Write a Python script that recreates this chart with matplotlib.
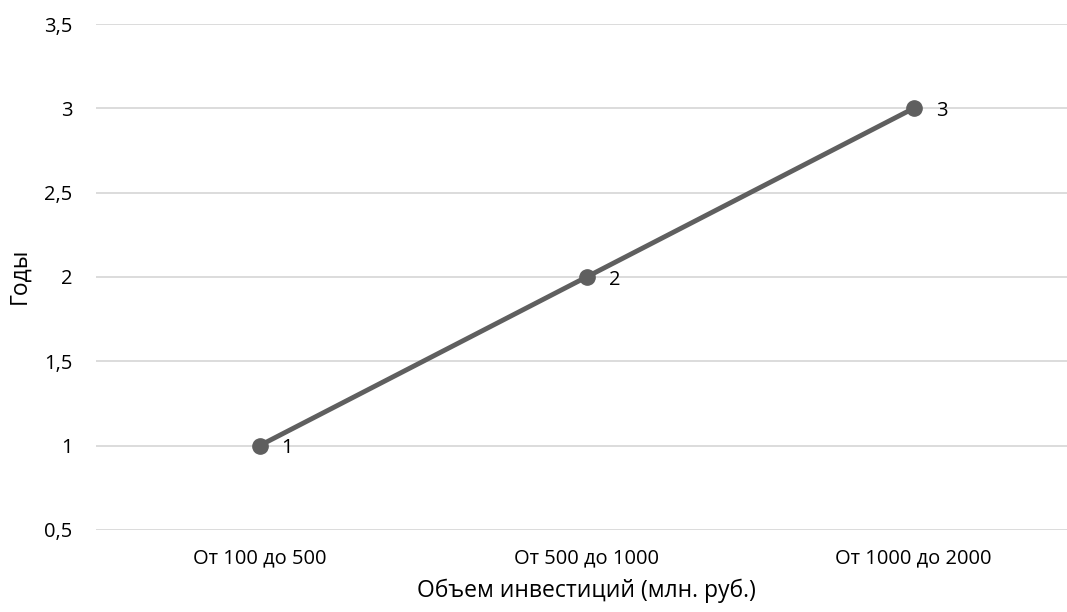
import matplotlib
matplotlib.use("Agg")
import matplotlib.pyplot as plt

categories = ["От 100 до 500", "От 500 до 1000", "От 1000 до 2000"]
years = [1, 2, 3]
y_ticks = [0.5, 1, 1.5, 2, 2.5, 3, 3.5]
y_tick_labels = ["0,5", "1", "1,5", "2", "2,5", "3", "3,5"]

plt.rcParams["font.family"] = ["Open Sans", "DejaVu Sans"]

fig = plt.figure(figsize=(10.67, 6.12), dpi=100)
ax = fig.add_axes([96 / 1067, 82 / 612, 971 / 1067, 506 / 612])

x = list(range(len(categories)))
line_color = "#5f5f5f"
ax.plot(x, years, color=line_color, linewidth=3.5, marker="o", markersize=11,
        zorder=3)

# подписи точек
for xi, yi in zip(x, years):
    ax.annotate(str(yi), (xi, yi), xytext=(20, -2), textcoords="offset points",
                ha="center", va="center", fontsize=14.5, color="black")

ax.set_xlim(-0.5, 2.469)
ax.set_ylim(0.5, 3.5)
ax.set_yticks(y_ticks)
ax.set_yticklabels(y_tick_labels, fontsize=14.5)
ax.set_xticks(x)
ax.set_xticklabels(categories, fontsize=14.5)
ax.tick_params(axis="y", length=0, pad=17)
ax.tick_params(axis="x", length=0, pad=13)

ax.grid(axis="y", color="#d9d9d9", linewidth=1.3)
ax.set_axisbelow(True)
for s in ax.spines.values():
    s.set_visible(False)

fig.text(586 / 1067, 1 - 591 / 612, "Объем инвестиций (млн. руб.)",
         ha="center", va="center", fontsize=16.5)
fig.text(19 / 1067, 1 - 276 / 612, "Годы", ha="center", va="center",
         rotation=90, fontsize=16.5)

fig.savefig("out.png", dpi=100)
